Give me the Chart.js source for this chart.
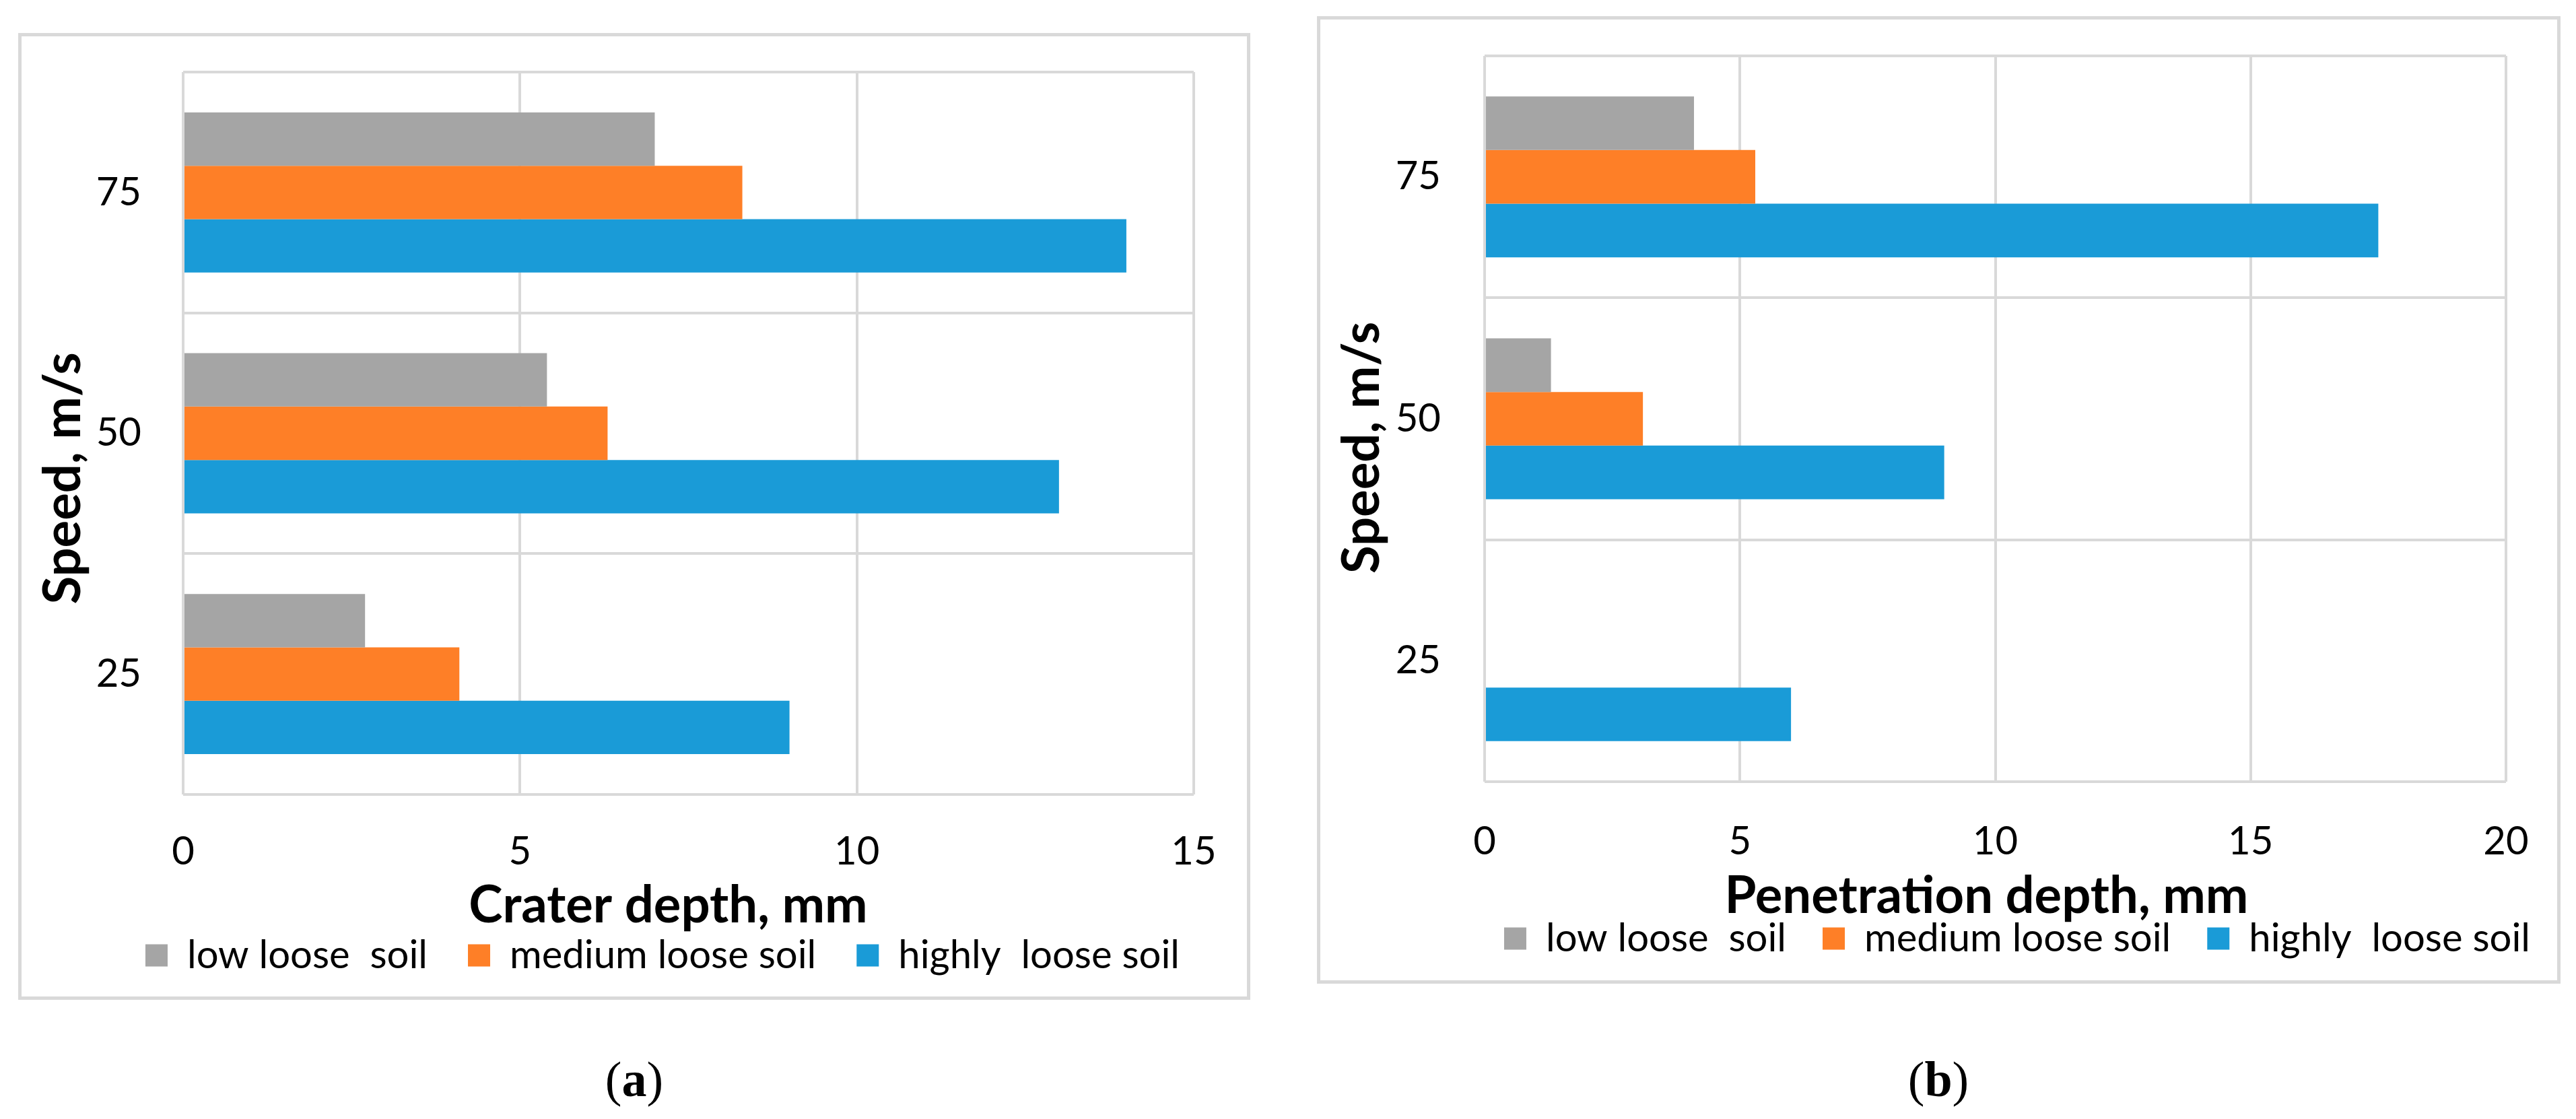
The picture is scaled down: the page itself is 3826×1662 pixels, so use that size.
<!DOCTYPE html>
<html>
<head>
<meta charset="utf-8">
<script src="https://cdn.jsdelivr.net/npm/chart.js@4.4.1/dist/chart.umd.min.js"></script>
<style>
  html, body { margin: 0; padding: 0; background: #ffffff; overflow: hidden; }
  body { width: 3826px; height: 1662px; position: relative; }
  .box { position: absolute; border: 5px solid #D9D9D9; box-sizing: border-box; background: #ffffff; }
  canvas { position: absolute; top: 0; }
  .cap { position: absolute; font-family: "Liberation Serif", "Times New Roman", serif; font-size: 74px; color: #000;
         transform: translate(-50%, -50%); white-space: nowrap; line-height: 1; }
</style>
</head>
<body>
<div class="box" style="left:27px; top:49px; width:1830px; height:1436px;"></div>
<div class="box" style="left:1956px; top:24px; width:1847px; height:1437px;"></div>
<canvas id="chartA" width="1900" height="1662" style="left:0px; width:1900px; height:1662px;"></canvas>
<canvas id="chartB" width="2200" height="1662" style="left:1913px; width:2200px; height:1662px;"></canvas>
<div class="cap" style="left:942px; top:1603px;">(<b>a</b>)</div>
<div class="cap" style="left:2879px; top:1603px;">(<b>b</b>)</div>

<script>
// ---- data ----
const speeds = ['75', '50', '25'];
const seriesNames = ['low loose  soil', 'medium loose soil', 'highly  loose soil'];
const seriesColors = ['#A5A5A5', '#FE7F27', '#1A9BD7'];

const craterLow = [7.0, 5.4, 2.7];
const craterMedium = [8.3, 6.3, 4.1];
const craterHigh = [14.0, 13.0, 9.0];

const penetrationLow = [4.1, 1.3, 0];
const penetrationMedium = [5.3, 3.1, 0];
const penetrationHigh = [17.5, 9.0, 6.0];

const craterTicks = [0, 5, 10, 15];
const penetrationTicks = [0, 5, 10, 15, 20];

const yTitle = 'Speed, m/s';
const craterTitle = 'Crater depth, mm';
const penetrationTitle = 'Penetration depth, mm';

// ---- layout (canvas pixel space) ----
const layoutA = { pl: 84, pr: 16, pt: 107, pb: 204, plotBottom: 1180, yw: 188, rw: 111,
                  lp: 60, xtp: 50, xtb: -61, ytp: 62, ytt: -35, xShift: -30, yShift: 67 };
const layoutB = { pl: 60, pr: 94, pt: 83, pb: 229, plotBottom: 1161, yw: 232, rw: 297,
                  lp: 54, xtp: 54, xtb: -66, ytp: 65, ytt: 5, xShift: -13, yShift: 43 };

Chart.defaults.font.family = 'Lato, "Noto Sans", "Open Sans", sans-serif';
Chart.defaults.color = '#000000';

// move a scale's title by (dx, dy) while still letting Chart.js draw it
function shiftTitle(s, dx, dy) {
  if (s._titleShifted) return;
  const orig = s.drawTitle.bind(s);
  s.drawTitle = function () {
    const ctx = this.ctx;
    ctx.save();
    ctx.translate(dx, dy);
    orig();
    ctx.restore();
  };
  s._titleShifted = true;
}

function build(id, L, seriesValues, xTitle, tickValues) {
  const el = document.getElementById(id);
  return new Chart(el, {
    type: 'bar',
    data: {
      labels: speeds,
      datasets: seriesValues.map((vals, i) => ({
        label: seriesNames[i],
        data: vals,
        backgroundColor: seriesColors[i],
        borderWidth: 0,
        categoryPercentage: 0.665,
        barPercentage: 1.0,
        xAxisID: 'x',
        yAxisID: 'y'
      }))
    },
    options: {
      indexAxis: 'y',
      responsive: false,
      animation: false,
      devicePixelRatio: 1,
      layout: { padding: { left: L.pl, right: L.pr, top: L.pt, bottom: L.pb } },
      plugins: {
        legend: {
          position: 'bottom',
          align: 'center',
          labels: { boxWidth: 33, boxHeight: 33, padding: L.lp, color: '#000000', font: { size: 58 } }
        },
        tooltip: { enabled: false }
      },
      scales: {
        x: {
          type: 'linear',
          min: tickValues[0],
          max: tickValues[tickValues.length - 1],
          ticks: { stepSize: tickValues[1] - tickValues[0], padding: L.xtp, color: '#000000', font: { size: 58 } },
          grid: { color: '#D9D9D9', lineWidth: 4, drawTicks: false },
          border: { display: false },
          title: { display: true, text: xTitle, color: '#000000', font: { size: 76, weight: 'bold' },
                   padding: { top: 0, bottom: L.xtb } },
          afterFit(s) {
            const lg = s.chart.legend;
            s.height = (s.chart.height - L.pb - (lg ? lg.height : 0)) - L.plotBottom;
            s.paddingLeft = 0; s.paddingRight = 0;
            shiftTitle(s, L.xShift, 0);
          }
        },
        y: {
          type: 'category',
          ticks: { padding: L.ytp, color: '#000000', font: { size: 58 } },
          grid: { color: '#D9D9D9', lineWidth: 4, drawTicks: false, offset: true },
          border: { display: false },
          title: { display: true, text: yTitle, color: '#000000', font: { size: 76, weight: 'bold' },
                   padding: { top: L.ytt, bottom: 0 } },
          afterFit(s) {
            s.width = L.yw;
            s.paddingTop = 0; s.paddingBottom = 0;
            shiftTitle(s, 0, L.yShift);
          }
        },
        yR: {
          type: 'linear',
          position: 'right',
          display: true,
          grid: { display: false, drawTicks: false },
          border: { display: false },
          ticks: { display: false },
          afterFit(s) { s.width = L.rw; s.paddingTop = 0; s.paddingBottom = 0; }
        }
      }
    }
  });
}

const ready = (document.fonts && document.fonts.load)
  ? Promise.all([document.fonts.load('58px Lato'), document.fonts.load('bold 76px Lato')]).catch(() => {})
  : Promise.resolve();

ready.then(() => {
  build('chartA', layoutA, [craterLow, craterMedium, craterHigh], craterTitle, craterTicks);
  build('chartB', layoutB, [penetrationLow, penetrationMedium, penetrationHigh], penetrationTitle, penetrationTicks);
});
</script>
</body>
</html>
